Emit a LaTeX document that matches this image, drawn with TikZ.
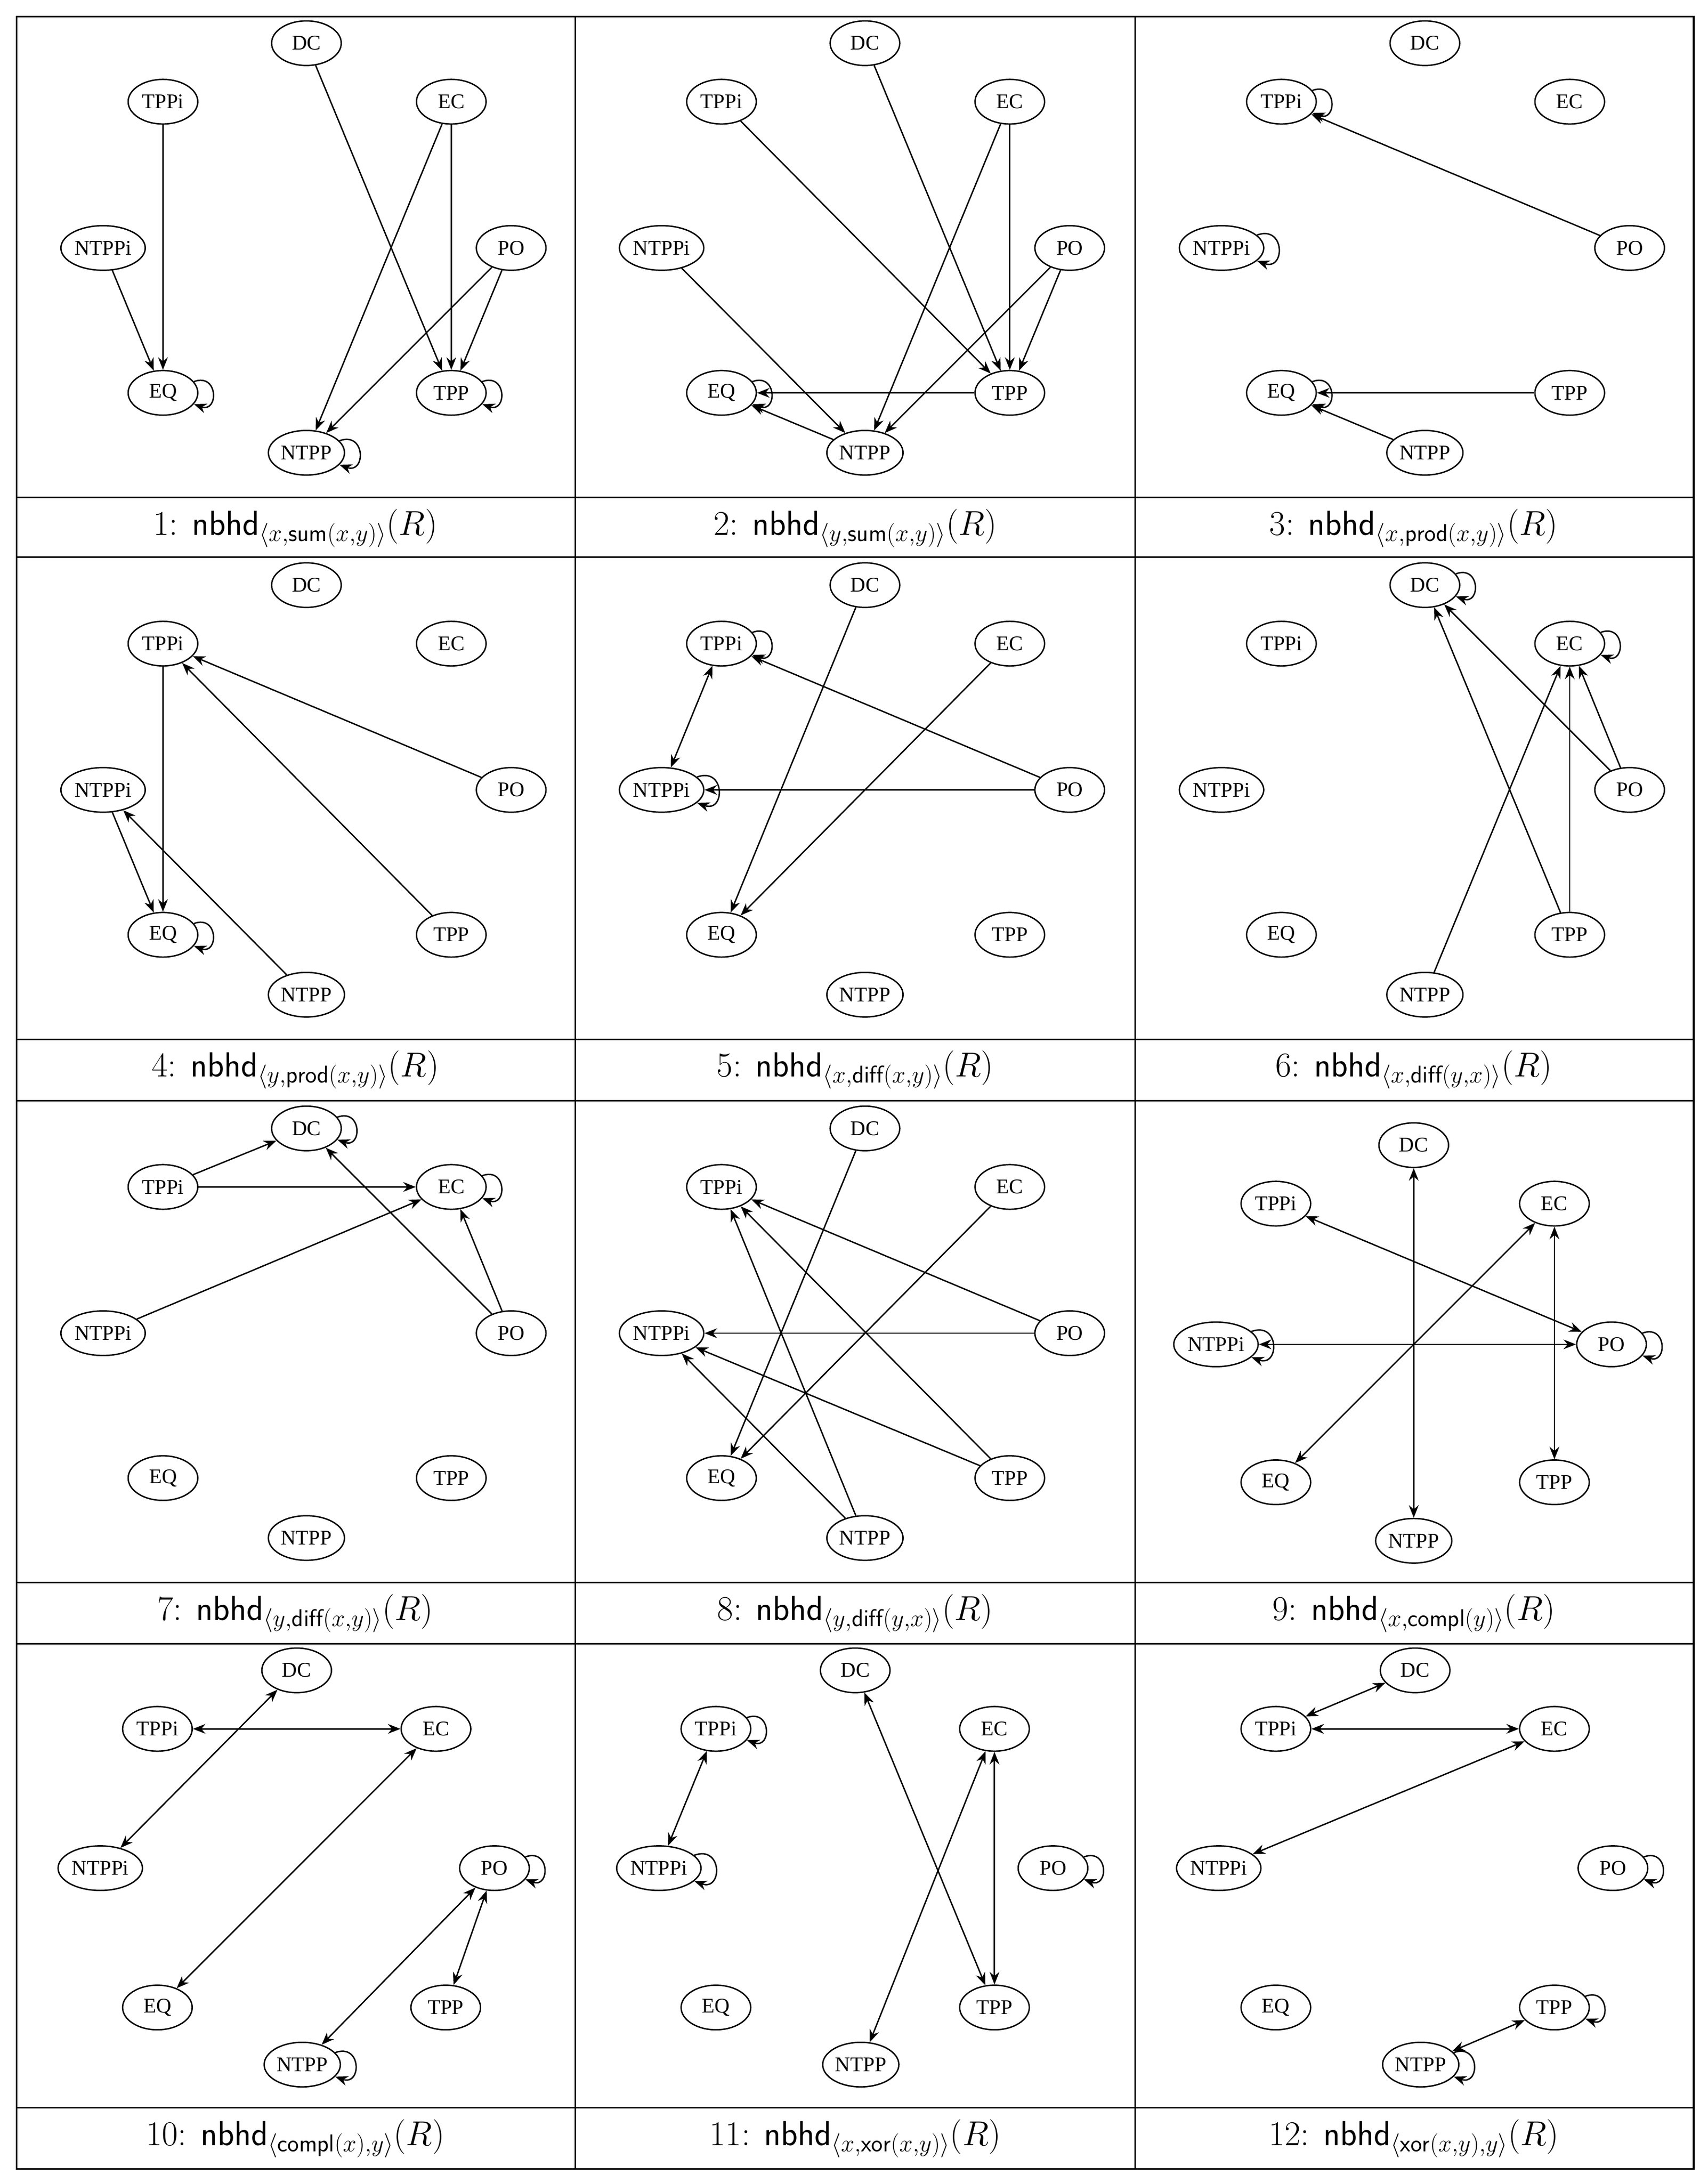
\documentclass[tikz,border=0pt]{standalone}
\usepackage{fontspec}
\usepackage{amsmath}
\newfontfamily\nodefont{Liberation Serif}
\usetikzlibrary{shapes.geometric,arrows.meta}
\tikzset{
 st/.style={ellipse,draw,line width=1pt,inner sep=1pt,minimum width=50pt,minimum height=32pt,font=\nodefont\fontsize{15}{17}\selectfont},
 ar/.style={draw,line width=1pt,-{Stealth[length=9pt,width=7pt]}},
 br/.style={draw,line width=1pt,{Stealth[length=9pt,width=7pt]}-{Stealth[length=9pt,width=7pt]}},
 every loop/.style={min distance=8pt,in=-20,out=20,looseness=3},
 captxt/.style={font=\fontsize{25}{29}\selectfont}
}
\newcommand\mkA[1]{%
 \node[st] (#1DC) at (208,19) {DC};
 \node[st] (#1TPPi) at (105,61) {TPPi};
 \node[st] (#1EC) at (312,61) {EC};
 \node[st] (#1NTPPi) at (62,166) {NTPPi};
 \node[st] (#1PO) at (355,166) {PO};
 \node[st] (#1EQ) at (105,270) {EQ};
 \node[st] (#1TPP) at (312,270) {TPP};
 \node[st] (#1NTPP) at (208,313) {NTPP};}
\newcommand\mkB[1]{%
 \node[st] (#1DC) at (200,32) {DC};
 \node[st] (#1TPPi) at (101,74) {TPPi};
 \node[st] (#1EC) at (301,74) {EC};
 \node[st] (#1NTPPi) at (58,175) {NTPPi};
 \node[st] (#1PO) at (342,175) {PO};
 \node[st] (#1EQ) at (101,274) {EQ};
 \node[st] (#1TPP) at (301,274) {TPP};
 \node[st] (#1NTPP) at (200,316) {NTPP};}
\newcommand\mkC[2]{%
 \node[st] (#1DC) at (201,19) {DC};
 \node[st] (#1TPPi) at (101,61) {TPPi};
 \node[st] (#1EC) at (301,61) {EC};
 \node[st] (#1NTPPi) at (60,161) {NTPPi};
 \node[st] (#1PO) at (343,161) {PO};
 \node[st] (#1EQ) at (101,261) {EQ};
 \node[st] (#1TPP) at (#2,261) {TPP};
 \node[st] (#1NTPP) at (205,302) {NTPP};}
\newcommand\lp[1]{\path (#1) edge[ar,loop right] ();}
\begin{document}
\begin{tikzpicture}[x=1pt,y=-1pt]
\useasboundingbox (0,0) rectangle (1226,1567);
\draw[line width=1.2pt] (12,12) rectangle (1216,1557);
\foreach \x in {413,815} \draw[line width=1.2pt] (\x,12) -- (\x,1557);
\foreach \y in {357,400,746,790,1136,1180,1513} \draw[line width=1.2pt] (12,\y) -- (1216,\y);
% captions
\node[captxt] (c1) at (212,379) {1: $\mathsf{nbhd}_{\langle x,\mathsf{sum}(x,y)\rangle}(R)$};
\node[captxt] (c2) at (614,379) {2: $\mathsf{nbhd}_{\langle y,\mathsf{sum}(x,y)\rangle}(R)$};
\node[captxt] (c3) at (1015,379) {3: $\mathsf{nbhd}_{\langle x,\mathsf{prod}(x,y)\rangle}(R)$};
\node[captxt] (c4) at (212,768) {4: $\mathsf{nbhd}_{\langle y,\mathsf{prod}(x,y)\rangle}(R)$};
\node[captxt] (c5) at (614,768) {5: $\mathsf{nbhd}_{\langle x,\mathsf{diff}(x,y)\rangle}(R)$};
\node[captxt] (c6) at (1015,768) {6: $\mathsf{nbhd}_{\langle x,\mathsf{diff}(y,x)\rangle}(R)$};
\node[captxt] (c7) at (212,1158) {7: $\mathsf{nbhd}_{\langle y,\mathsf{diff}(x,y)\rangle}(R)$};
\node[captxt] (c8) at (614,1158) {8: $\mathsf{nbhd}_{\langle y,\mathsf{diff}(y,x)\rangle}(R)$};
\node[captxt] (c9) at (1015,1158) {9: $\mathsf{nbhd}_{\langle x,\mathsf{compl}(y)\rangle}(R)$};
\node[captxt] (c10) at (212,1535) {10: $\mathsf{nbhd}_{\langle \mathsf{compl}(x),y\rangle}(R)$};
\node[captxt] (c11) at (614,1535) {11: $\mathsf{nbhd}_{\langle x,\mathsf{xor}(x,y)\rangle}(R)$};
\node[captxt] (c12) at (1015,1535) {12: $\mathsf{nbhd}_{\langle \mathsf{xor}(x,y),y\rangle}(R)$};
% 1
\begin{scope}[shift={(12,12)}]\mkA{a}
\draw[ar] (aTPPi) -- (aEQ); \draw[ar] (aNTPPi) -- (aEQ); \lp{aEQ}
\draw[ar] (aDC) -- (aTPP); \draw[ar] (aEC) -- (aNTPP); \draw[ar] (aEC) -- (aTPP);
\draw[ar] (aPO) -- (aNTPP); \draw[ar] (aPO) -- (aTPP); \lp{aTPP} \lp{aNTPP}
\end{scope}
% 2
\begin{scope}[shift={(413,12)}]\mkA{b}
\draw[ar] (bTPPi) -- (bTPP); \draw[ar] (bDC) -- (bTPP); \draw[ar] (bEC) -- (bTPP);
\draw[ar] (bEC) -- (bNTPP); \draw[ar] (bPO) -- (bTPP); \draw[ar] (bPO) -- (bNTPP);
\draw[ar] (bNTPPi) -- (bNTPP); \draw[ar] (bTPP) -- (bEQ); \draw[ar] (bNTPP) -- (bEQ); \lp{bEQ}
\end{scope}
% 3
\begin{scope}[shift={(815,12)}]\mkA{c}
\lp{cTPPi} \lp{cNTPPi} \draw[ar] (cPO) -- (cTPPi); \draw[ar] (cTPP) -- (cEQ);
\draw[ar] (cNTPP) -- (cEQ); \lp{cEQ}
\end{scope}
% 4
\begin{scope}[shift={(12,401)}]\mkA{d}
\draw[ar] (dTPPi) -- (dEQ); \draw[ar] (dNTPPi) -- (dEQ); \draw[ar] (dNTPP) -- (dNTPPi);
\draw[ar] (dPO) -- (dTPPi); \draw[ar] (dTPP) -- (dTPPi); \lp{dEQ}
\end{scope}
% 5
\begin{scope}[shift={(413,401)}]\mkA{e}
\lp{eTPPi} \draw[br] (eTPPi) -- (eNTPPi); \draw[ar] (ePO) -- (eTPPi); \draw[ar] (ePO) -- (eNTPPi);
\lp{eNTPPi} \draw[ar] (eDC) -- (eEQ); \draw[ar] (eEC) -- (eEQ);
\end{scope}
% 6
\begin{scope}[shift={(815,401)}]\mkA{f}
\lp{fDC} \lp{fEC} \draw[ar] (fPO) -- (fDC); \draw[ar] (fPO) -- (fEC);
\draw[ar] (fTPP) -- (fDC); \draw[ar] (fTPP) -- (fEC); \draw[ar] (fNTPP) -- (fEC);
\end{scope}
% 7
\begin{scope}[shift={(12,791)}]\mkA{g}
\draw[ar] (gTPPi) -- (gDC); \draw[ar] (gTPPi) -- (gEC); \lp{gDC} \lp{gEC}
\draw[ar] (gPO) -- (gDC); \draw[ar] (gPO) -- (gEC); \draw[ar] (gNTPPi) -- (gEC);
\end{scope}
% 8
\begin{scope}[shift={(413,791)}]\mkA{h}
\draw[ar] (hPO) -- (hTPPi); \draw[ar] (hTPP) -- (hTPPi); \draw[ar] (hNTPP) -- (hTPPi);
\draw[ar] (hPO) -- (hNTPPi); \draw[ar] (hTPP) -- (hNTPPi); \draw[ar] (hNTPP) -- (hNTPPi);
\draw[ar] (hDC) -- (hEQ); \draw[ar] (hEC) -- (hEQ);
\end{scope}
% 9
\begin{scope}[shift={(815,790)}]\mkB{i}
\draw[br] (iDC) -- (iNTPP); \draw[br] (iTPPi) -- (iPO); \draw[br] (iEC) -- (iEQ);
\draw[br] (iNTPPi) -- (iPO); \draw[br] (iEC) -- (iTPP); \lp{iNTPPi} \lp{iPO}
\end{scope}
% 10
\begin{scope}[shift={(12,1180)}]\mkC{j}{308}
\draw[br] (jTPPi) -- (jEC); \draw[br] (jDC) -- (jNTPPi); \draw[br] (jEC) -- (jEQ);
\draw[br] (jPO) -- (jNTPP); \draw[br] (jPO) -- (jTPP); \lp{jPO} \lp{jNTPP}
\end{scope}
% 11
\begin{scope}[shift={(413,1180)}]\mkC{k}{301}
\lp{kTPPi} \draw[br] (kTPPi) -- (kNTPPi); \lp{kNTPPi} \draw[br] (kDC) -- (kTPP);
\draw[br] (kEC) -- (kNTPP); \draw[br] (kEC) -- (kTPP); \lp{kPO}
\end{scope}
% 12
\begin{scope}[shift={(815,1180)}]\mkC{l}{301}
\draw[br] (lTPPi) -- (lDC); \draw[br] (lTPPi) -- (lEC); \draw[br] (lEC) -- (lNTPPi);
\draw[br] (lTPP) -- (lNTPP); \lp{lTPP} \lp{lNTPP} \lp{lPO}
\end{scope}
\end{tikzpicture}
\end{document}
